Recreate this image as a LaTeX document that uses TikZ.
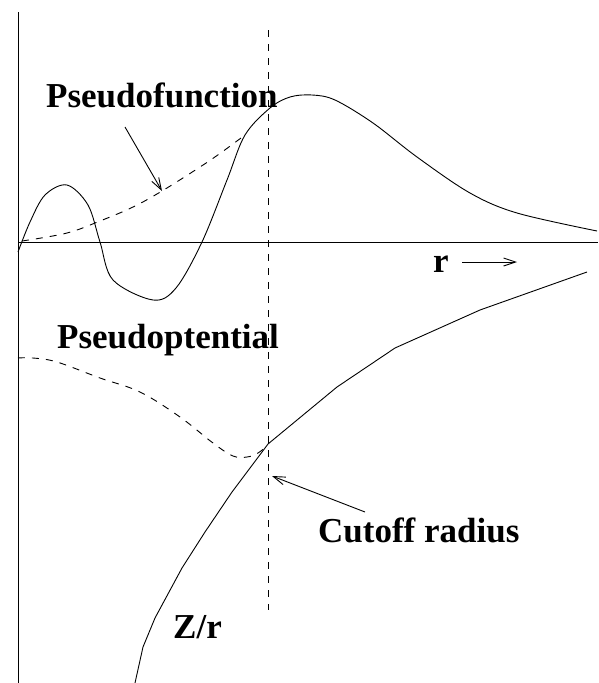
\documentclass[tikz,border=0pt]{standalone}
\usepackage{fontspec}
\setmainfont{Liberation Serif}
\usetikzlibrary{arrows.meta}
\begin{document}
\begin{tikzpicture}[x=1pt,y=-1pt,
  curve/.style={line width=0.9pt,black},
  dashcurve/.style={line width=0.9pt,black,dash pattern=on 7pt off 7pt},
  lbl/.style={font=\fontsize{35}{40}\selectfont\bfseries,inner sep=0pt,anchor=base west},
  pointer/.style={line width=0.9pt,-{Straight Barb[length=12pt,width=8pt]}}]
\useasboundingbox (0,0) rectangle (598,683);
% axes
\coordinate (ytop) at (18,12);
\coordinate (ybot) at (18,683);
\coordinate (xl) at (18,242);
\coordinate (xr) at (598,242);
\draw[curve] (ytop) -- (ybot);
\draw[curve] (xl) -- (xr);
% cutoff line
\coordinate (ctop) at (268,30);
\coordinate (cbot) at (268,610);
\draw[dashcurve] (ctop) -- (cbot);
% all-electron wavefunction
\draw[curve] plot[smooth,tension=0.55] coordinates {(18,252) (30,222) (45,195) (67,185) (88,205) (100,242) (113,280) (153,300) (176,288) (202,242) (227,180) (245,135) (270,108) (290,97) (312,95) (335,100) (373,123) (417,157) (470,193) (517,213) (597,231)};
% pseudofunction
\draw[dashcurve] plot[smooth,tension=0.6] coordinates {(22,241) (67,233) (100,221) (133,207) (162,191) (200,167) (222,152) (245,135)};
% pseudopotential
\draw[dashcurve] plot[smooth,tension=0.6] coordinates {(18,358) (33,358) (57,362) (100,378) (140,392) (180,417) (213,443) (233,456) (247,457) (258,453) (268,445)};
% Z/r
\draw[curve] (135,683) -- (143,647) -- (155,618) -- (182,568) -- (205,532) -- (232,492) -- (268,444) -- (337,387) -- (395,348) -- (480,310) -- (587,272);
% labels
\node[lbl] (pf) at (46,107) {Pseudofunction};
\node[lbl] (pp) at (57,348) {Pseudoptential};
\node[lbl] (r) at (433,272) {r};
\node[lbl] (cr) at (318,542) {Cutoff radius};
\node[lbl] (zr) at (173,638) {Z/r};
% pointers
\coordinate (pfs) at (125,127);
\coordinate (pfe) at (162,191);
\draw[pointer] (pfs) -- (pfe);
\coordinate (crs) at (365,512);
\coordinate (cre) at (272,476);
\draw[pointer] (crs) -- (cre);
\coordinate (rs) at (462,262);
\coordinate (re) at (517,262);
\draw[pointer] (rs) -- (re);
\end{tikzpicture}
\end{document}
